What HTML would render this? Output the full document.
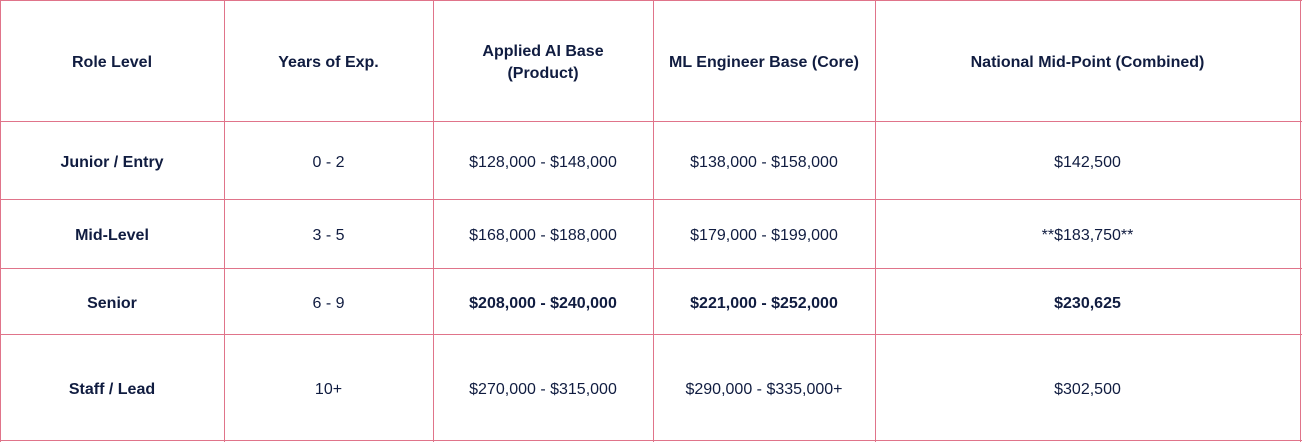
<!DOCTYPE html><html><head><style>
body{margin:0;width:1302px;height:442px;background:#fff;position:relative;overflow:hidden;font-family:"Liberation Sans",sans-serif;color:#101c40;font-size:16px}
.v{position:absolute;top:0;width:1px;height:442px;background:#e0748a}
.h{position:absolute;left:0;height:1px;width:1302px;background:#e0748a}
.c{position:absolute;display:flex;align-items:center;justify-content:center;text-align:center;line-height:22px;padding-top:5px;box-sizing:border-box}
.b{font-weight:bold}
</style></head><body>
<!-- header -->
<div class="c b" style="left:0;width:224px;top:0;height:121px">Role Level</div>
<div class="c b" style="left:224px;width:209px;top:0;height:121px">Years of Exp.</div>
<div class="c b" style="left:433px;width:220px;top:0;height:121px">Applied AI Base<br>(Product)</div>
<div class="c b" style="left:653px;width:222px;top:0;height:121px">ML Engineer Base (Core)</div>
<div class="c b" style="left:875px;width:425px;top:0;height:121px">National Mid-Point (Combined)</div>
<!-- r1 -->
<div class="c b" style="left:0;width:224px;top:121px;height:78px">Junior / Entry</div>
<div class="c" style="left:224px;width:209px;top:121px;height:78px">0 - 2</div>
<div class="c" style="left:433px;width:220px;top:121px;height:78px">$128,000 - $148,000</div>
<div class="c" style="left:653px;width:222px;top:121px;height:78px">$138,000 - $158,000</div>
<div class="c" style="left:875px;width:425px;top:121px;height:78px">$142,500</div>
<!-- r2 -->
<div class="c b" style="left:0;width:224px;top:199px;height:69px">Mid-Level</div>
<div class="c" style="left:224px;width:209px;top:199px;height:69px">3 - 5</div>
<div class="c" style="left:433px;width:220px;top:199px;height:69px">$168,000 - $188,000</div>
<div class="c" style="left:653px;width:222px;top:199px;height:69px">$179,000 - $199,000</div>
<div class="c" style="left:875px;width:425px;top:199px;height:69px">**$183,750**</div>
<!-- r3 -->
<div class="c b" style="left:0;width:224px;top:268px;height:66px">Senior</div>
<div class="c" style="left:224px;width:209px;top:268px;height:66px">6 - 9</div>
<div class="c b" style="left:433px;width:220px;top:268px;height:66px">$208,000 - $240,000</div>
<div class="c b" style="left:653px;width:222px;top:268px;height:66px">$221,000 - $252,000</div>
<div class="c b" style="left:875px;width:425px;top:268px;height:66px">$230,625</div>
<!-- r4 -->
<div class="c b" style="left:0;width:224px;top:334px;height:106px">Staff / Lead</div>
<div class="c" style="left:224px;width:209px;top:334px;height:106px">10+</div>
<div class="c" style="left:433px;width:220px;top:334px;height:106px">$270,000 - $315,000</div>
<div class="c" style="left:653px;width:222px;top:334px;height:106px">$290,000 - $335,000+</div>
<div class="c" style="left:875px;width:425px;top:334px;height:106px">$302,500</div>
<div class="v" style="left:0"></div><div class="v" style="left:224px"></div><div class="v" style="left:433px"></div><div class="v" style="left:653px"></div><div class="v" style="left:875px"></div><div class="v" style="left:1300px"></div>
<div class="h" style="top:0"></div><div class="h" style="top:121px"></div><div class="h" style="top:199px"></div><div class="h" style="top:268px"></div><div class="h" style="top:334px"></div><div class="h" style="top:440px"></div>
</body></html>
